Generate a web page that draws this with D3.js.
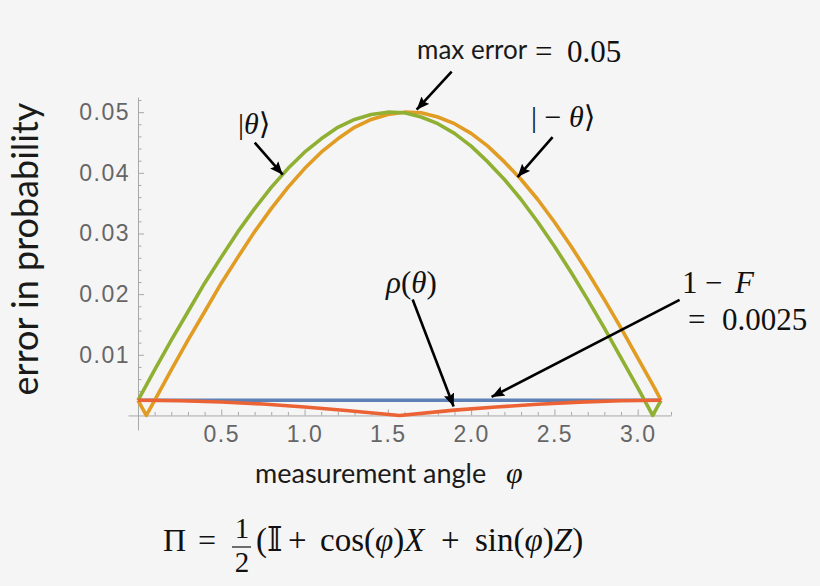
<!DOCTYPE html>
<html>
<head>
<meta charset="utf-8">
<script src="https://cdn.jsdelivr.net/npm/d3@7"></script>
<style>
  body { margin: 0; background: #f5f5f5; }
  svg { display: block; }
  .math { font-family: "Liberation Serif", "DejaVu Serif", serif; fill: #111; }
  .sans { font-family: Lato, "Noto Sans", sans-serif; fill: #1a1a1a; }
</style>
</head>
<body>
<div id="chart-container"></div>
<script>
// ! data (angle in rad, error in probability)
const phiGreen = [0, 0.1, 0.2, 0.3, 0.4, 0.5, 0.6, 0.7, 0.8, 0.9, 1.0, 1.1, 1.2, 1.3, 1.4, 1.5, 1.6,
  1.7, 1.8, 1.9, 2.0, 2.1, 2.2, 2.3, 2.4, 2.5, 2.6, 2.7, 2.8, 2.9, 3.0, 3.09, 3.14];
const errGreen = [0.0025, 0.0075, 0.0124, 0.0171, 0.0218, 0.0261, 0.0303, 0.0341, 0.0376, 0.0407,
  0.0434, 0.0456, 0.0475, 0.0488, 0.0496, 0.05, 0.0499, 0.0492, 0.0481, 0.0465, 0.0444, 0.0418,
  0.0389, 0.0356, 0.0319, 0.0279, 0.0236, 0.0191, 0.0144, 0.0095, 0.0046, 0, 0.0025];

const phiOrange = [0, 0.05, 0.1, 0.2, 0.3, 0.4, 0.5, 0.6, 0.7, 0.8, 0.9, 1.0, 1.1, 1.2, 1.3, 1.4, 1.5,
  1.6, 1.7, 1.8, 1.9, 2.0, 2.1, 2.2, 2.3, 2.4, 2.5, 2.6, 2.7, 2.8, 2.9, 3.0, 3.1, 3.14];
const errOrange = [0.0025, 0, 0.0025, 0.0075, 0.0124, 0.0171, 0.0218, 0.0261, 0.0303, 0.0341, 0.0376,
  0.0407, 0.0434, 0.0456, 0.0475, 0.0488, 0.0496, 0.05, 0.0499, 0.0492, 0.0481, 0.0465, 0.0444,
  0.0418, 0.0389, 0.0356, 0.0319, 0.0279, 0.0236, 0.0191, 0.0144, 0.0095, 0.0046, 0.0025];

const phiBlue = [0, 3.14];
const errBlue = [0.0025, 0.0025];

const phiRed = [0, 0.25, 0.5, 0.75, 1.0, 1.25, 1.571, 1.9, 2.15, 2.4, 2.65, 2.9, 3.14];
const errRed = [0.0025, 0.00243, 0.00222, 0.00188, 0.0014, 0.00082, 0, 0.00088, 0.00138, 0.00185,
  0.0022, 0.00242, 0.0025];

const xTicks = [0.5, 1.0, 1.5, 2.0, 2.5, 3.0];
const yTicks = [0.01, 0.02, 0.03, 0.04, 0.05];
const xMinor = d3.range(1, 33).map((i) => i / 10).filter((v) => Math.round(v * 10) % 5 !== 0);
const yMinor = d3.range(1, 27).map((i) => i * 0.002).filter((v) => Math.round(v * 1000) % 10 !== 0);

const width = 820;
const height = 586;

const x = d3.scaleLinear().domain([-0.06, 3.2]).range([128, 671]);
const y = d3.scaleLinear().domain([-0.0024, 0.0525]).range([430, 97]);

const svg = d3
  .select("#chart-container")
  .append("svg")
  .attr("width", width)
  .attr("height", height);

svg.append("rect").attr("width", width).attr("height", height).attr("fill", "#f5f5f5");

// arrow head
svg
  .append("defs")
  .append("marker")
  .attr("id", "head")
  .attr("markerUnits", "userSpaceOnUse")
  .attr("viewBox", "0 0 12 10")
  .attr("refX", 12)
  .attr("refY", 5)
  .attr("markerWidth", 13)
  .attr("markerHeight", 11)
  .attr("orient", "auto")
  .append("path")
  .attr("d", "M0,0 L12,5 L0,10 L2,5 z")
  .attr("fill", "#000");

// ! axes
const axisColor = "#a8a8a8";
svg
  .append("g")
  .attr("transform", `translate(0,${y(0)})`)
  .call(d3.axisBottom(x).tickValues(xTicks).tickFormat(d3.format(".1f")).tickSize(-6).tickSizeOuter(0).tickPadding(10));
svg
  .append("g")
  .attr("transform", `translate(0,${y(0)})`)
  .call(d3.axisBottom(x).tickValues(xMinor).tickFormat("").tickSize(-3.5))
  .call((g) => g.select(".domain").remove());

svg
  .append("g")
  .attr("transform", `translate(${x(0)},0)`)
  .call(d3.axisLeft(y).tickValues(yTicks).tickFormat(d3.format(".2f")).tickSize(-6).tickSizeOuter(0).tickPadding(8));
svg
  .append("g")
  .attr("transform", `translate(${x(0)},0)`)
  .call(d3.axisLeft(y).tickValues(yMinor).tickFormat("").tickSize(-3.5))
  .call((g) => g.select(".domain").remove());

svg.selectAll(".domain, .tick line").attr("stroke", axisColor);
svg
  .selectAll(".tick text")
  .attr("fill", "#666")
  .style("font-family", '"Liberation Sans", Arial, sans-serif')
  .style("font-size", "23px")
  .style("letter-spacing", "1.5px");

// ! curves
const line = d3
  .line()
  .x((d) => x(d[0]))
  .y((d) => y(d[1]));

const series = [
  { phi: phiBlue, err: errBlue, color: "#5e81b5" },
  { phi: phiOrange, err: errOrange, color: "#e19c24" },
  { phi: phiGreen, err: errGreen, color: "#8fb032" },
  { phi: phiRed, err: errRed, color: "#eb6235" },
];

series.forEach(function (s) {
  svg
    .append("path")
    .datum(s.phi.map((p, i) => [p, s.err[i]]))
    .attr("fill", "none")
    .attr("stroke", s.color)
    .attr("stroke-width", 3.6)
    .attr("stroke-linejoin", "round")
    .attr("d", line);
});

// ! annotation arrows: tip on the curve (data), tail offset in px
const arrows = [
  { tip: [0.869, 0.0397], dx: -28, dy: -32 },
  { tip: [2.279, 0.0393], dx: 35, dy: -40 },
  { tip: [1.673, 0.0504], dx: 35, dy: -38 },
  { tip: [1.895, 0.00148], dx: -41, dy: -107 },
  { tip: [2.123, 0.00305], dx: 188, dy: -97 },
];

arrows.forEach(function (a) {
  const tx = x(a.tip[0]);
  const ty = y(a.tip[1]);
  svg
    .append("line")
    .attr("x1", tx + a.dx)
    .attr("y1", ty + a.dy)
    .attr("x2", tx)
    .attr("y2", ty)
    .attr("stroke", "#000")
    .attr("stroke-width", 2.6)
    .attr("marker-end", "url(#head)");
});

// ! labels — parts: [text, italic, x position (optional)]
function mathText(px, py, size, parts) {
  const t = svg
    .append("text")
    .attr("class", "math")
    .attr("x", px)
    .attr("y", py)
    .style("font-size", size + "px")
    .attr("xml:space", "preserve");
  parts.forEach(function (p) {
    const s = t.append("tspan").text(p[0]).style("font-style", p[1] ? "italic" : "normal");
    if (p[2] !== undefined) s.attr("x", p[2]);
  });
  return t;
}

mathText(238, 134, 30, [["|", 0], ["θ", 1], ["⟩", 0]]);
mathText(531, 127, 30, [["| − ", 0], ["θ", 1], ["⟩", 0]]);
mathText(386, 293, 31, [["ρ", 1], ["(", 0], ["θ", 1], [")", 0]]);
mathText(682, 293, 31, [["1", 0], ["−", 0, 705], ["F", 1, 735]]);
mathText(688, 330, 31, [["=", 0], ["0.0025", 0, 722]]);

svg
  .append("text")
  .attr("class", "sans")
  .attr("x", 417)
  .attr("y", 59)
  .style("font-size", "26px")
  .text("max error");
mathText(535, 62, 31, [["=", 0], ["0.05", 0, 567]]);

// axis titles
svg
  .append("text")
  .attr("class", "sans")
  .attr("transform", "translate(38,249) rotate(-90)")
  .attr("text-anchor", "middle")
  .style("font-size", "36px")
  .text("error in probability");

svg
  .append("text")
  .attr("class", "sans")
  .attr("x", 255)
  .attr("y", 483)
  .style("font-size", "27px")
  .text("measurement angle");
mathText(506, 483, 30, [["φ", 1]]);

// formula under the plot
mathText(163, 551, 32, [["Π", 0], ["=", 0, 198]]);
mathText(242, 538, 29, [["1", 0]]).attr("text-anchor", "middle");
mathText(242, 572, 29, [["2", 0]]).attr("text-anchor", "middle");
svg
  .append("line")
  .attr("x1", 232)
  .attr("x2", 251)
  .attr("y1", 547)
  .attr("y2", 547)
  .attr("stroke", "#111")
  .attr("stroke-width", 1.2);
mathText(256, 551, 33, [
  ["(𝕀", 0], ["+", 0, 288], ["cos(", 0, 320], ["φ", 1], [")", 0], ["X", 1],
  ["+", 0, 441], ["sin(", 0, 475], ["φ", 1], [")", 0], ["Z", 1], [")", 0],
]);
</script>
</body>
</html>
